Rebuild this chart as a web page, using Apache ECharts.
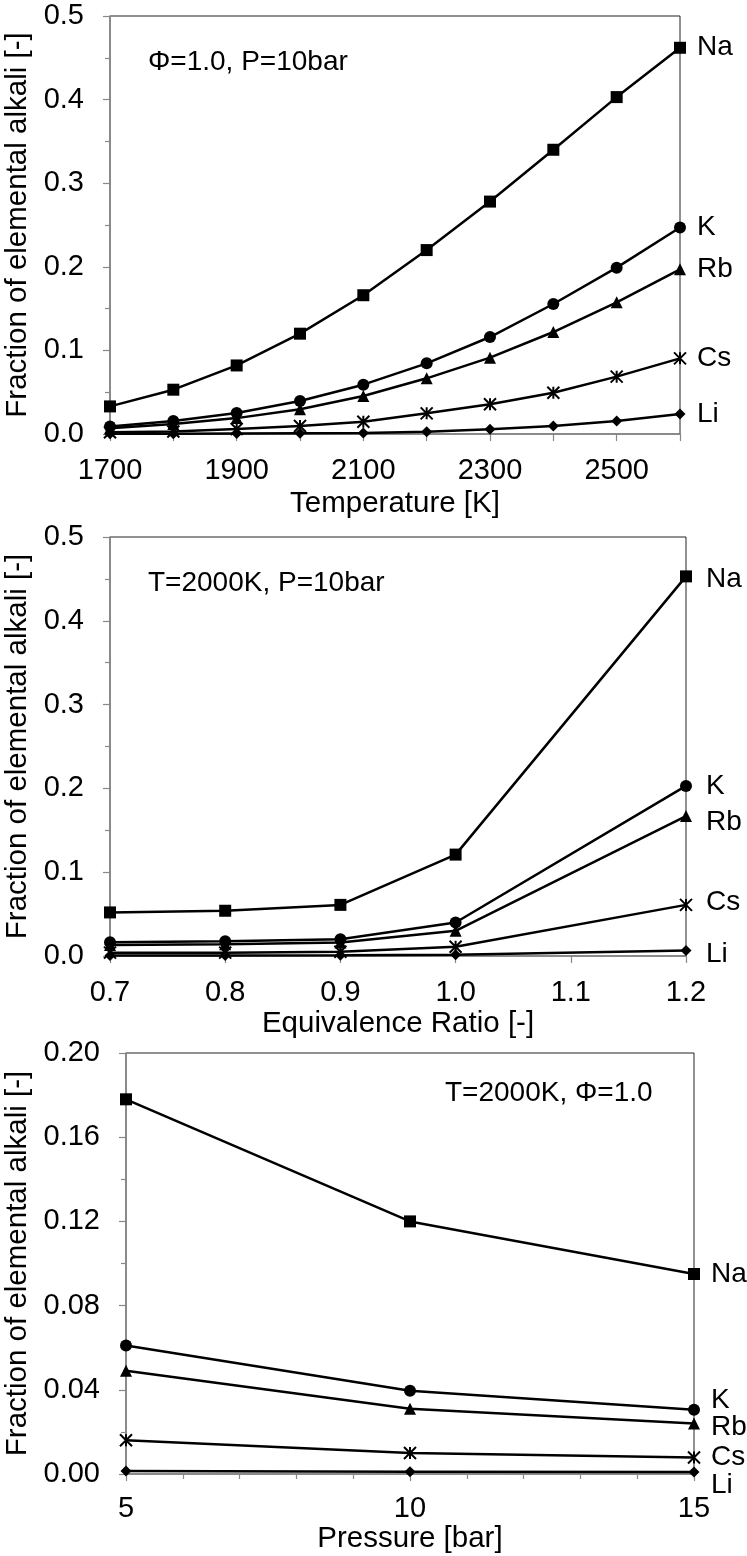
<!DOCTYPE html>
<html>
<head>
<meta charset="utf-8">
<script src="https://cdn.jsdelivr.net/npm/echarts@6/dist/echarts.min.js"></script>
<style>
  html, body { margin: 0; padding: 0; background: #fff; }
  #chart { width: 747px; height: 1556px; }
</style>
</head>
<body>
<div id="chart"></div>
<script>
// Fraction of elemental alkali vs temperature, equivalence ratio and pressure
const species = ['Na', 'K', 'Rb', 'Cs', 'Li'];

// Panel 1: Φ=1.0, P=10bar
const temperatureK = [1700, 1800, 1900, 2000, 2100, 2200, 2300, 2400, 2500, 2600];
const tempNa = [0.033, 0.053, 0.082, 0.120, 0.166, 0.220, 0.278, 0.340, 0.403, 0.462];
const tempK  = [0.009, 0.0155, 0.025, 0.0395, 0.059, 0.0845, 0.116, 0.1555, 0.199, 0.247];
const tempRb = [0.007, 0.012, 0.019, 0.0295, 0.0455, 0.0666, 0.0913, 0.122, 0.1575, 0.197];
const tempCs = [0.002, 0.003, 0.006, 0.0096, 0.0147, 0.0247, 0.0355, 0.0494, 0.0686, 0.0905];
const tempLi = [0.0002, 0.0003, 0.0005, 0.0008, 0.0012, 0.0026, 0.0056, 0.0096, 0.0155, 0.024];

// Panel 2: T=2000K, P=10bar
const equivRatio = [0.7, 0.8, 0.9, 1.0, 1.2];
const phiNa = [0.052, 0.054, 0.061, 0.121, 0.453];
const phiK  = [0.0165, 0.0175, 0.020, 0.040, 0.203];
const phiRb = [0.013, 0.014, 0.016, 0.030, 0.167];
const phiCs = [0.004, 0.004, 0.005, 0.011, 0.061];
const phiLi = [0.0005, 0.0006, 0.0008, 0.0015, 0.0065];

// Panel 3: T=2000K, Φ=1.0
const pressureBar = [5, 10, 15];
const presNa = [0.178, 0.120, 0.095];
const presK  = [0.061, 0.0395, 0.0305];
const presRb = [0.049, 0.031, 0.024];
const presCs = [0.016, 0.010, 0.0078];
const presLi = [0.0014, 0.0011, 0.0009];

const panelTitles = ['Φ=1.0, P=10bar', 'T=2000K, P=10bar', 'T=2000K, Φ=1.0'];
const xAxisNames = ['Temperature [K]', 'Equivalence Ratio [-]', 'Pressure [bar]'];
const yAxisName = 'Fraction of elemental alkali [-]';

const FONT = '"Liberation Sans", Arial, sans-serif';
const FS_TICK = 29;
const FS_NAME = 29.5;
const FS_TEXT = 28;
const AXIS_GRAY = '#888888';

const asterisk = 'path://M0,0L10,10M10,0L0,10M5,0L5,10';
const symbolStyle = {
  Na: { symbol: 'rect', symbolSize: 12 },
  K:  { symbol: 'circle', symbolSize: 12 },
  Rb: { symbol: 'triangle', symbolSize: 12 },
  Cs: { symbol: asterisk, symbolSize: 12 },
  Li: { symbol: 'diamond', symbolSize: 11 }
};

// vertical nudges of the end-of-line species labels, per panel
const labelNudge = [
  { Na: 0, K: 0, Rb: 0, Cs: 0, Li: 0 },
  { Na: 3, K: 0, Rb: 6, Cs: -3, Li: 4 },
  { Na: 0, K: -10, Rb: 4, Cs: 0, Li: 13 }
];
const labelDistance = [17, 20, 17];
const xNameGap = [55, 53, 48];
const yNameGap = [70, 70, 86];

const panels = [
  { x: temperatureK, ys: [tempNa, tempK, tempRb, tempCs, tempLi] },
  { x: equivRatio, ys: [phiNa, phiK, phiRb, phiCs, phiLi] },
  { x: pressureBar, ys: [presNa, presK, presRb, presCs, presLi] }
];

const grids = [
  { left: 110, top: 16, width: 570, height: 418 },
  { left: 110, top: 537, width: 576, height: 419 },
  { left: 126, top: 1053, width: 568, height: 421 }
].map(g => Object.assign({
  show: true, borderColor: '#222', borderWidth: 1, backgroundColor: 'transparent',
  containLabel: false, outerBoundsMode: 'none'
}, g));

const tickCommon = {
  axisLine: { show: true, onZero: false, lineStyle: { color: AXIS_GRAY, width: 1.5 } },
  axisTick: { show: true, inside: false, length: 7, lineStyle: { color: AXIS_GRAY, width: 1.2 } },
  splitLine: { show: false },
  axisLabel: { color: '#000', fontFamily: FONT, fontSize: FS_TICK },
  nameTextStyle: { color: '#000', fontFamily: FONT, fontSize: FS_NAME }
};

function xAxisFor(i) {
  const base = Object.assign({}, tickCommon, {
    type: 'value', gridIndex: i, name: xAxisNames[i], nameLocation: 'middle', nameGap: xNameGap[i]
  });
  if (i === 0) {
    Object.assign(base, { min: 1700, max: 2600, interval: 100 });
    base.axisLabel = Object.assign({}, tickCommon.axisLabel, {
      margin: 22, formatter: v => ((v - 1700) % 200 === 0 ? String(v) : '')
    });
  } else if (i === 1) {
    Object.assign(base, { min: 0.7, max: 1.2, interval: 0.1 });
    base.axisLabel = Object.assign({}, tickCommon.axisLabel, { margin: 22, formatter: v => v.toFixed(1) });
  } else {
    Object.assign(base, { min: 5, max: 15, interval: 5 });
    base.minorTick = { show: true, splitNumber: 5, length: 5, lineStyle: { color: AXIS_GRAY, width: 1.2 } };
    base.axisLabel = Object.assign({}, tickCommon.axisLabel, { margin: 20 });
  }
  return base;
}

function yAxisFor(i) {
  const base = Object.assign({}, tickCommon, {
    type: 'value', gridIndex: i, name: yAxisName, nameLocation: 'middle', nameRotate: 90,
    nameGap: yNameGap[i],
    minorTick: { show: true, splitNumber: 2, length: 5, lineStyle: { color: AXIS_GRAY, width: 1.2 } }
  });
  if (i === 2) {
    Object.assign(base, { min: 0, max: 0.2, interval: 0.04 });
    base.axisLabel = Object.assign({}, tickCommon.axisLabel, { margin: 26, formatter: v => v.toFixed(2) });
  } else {
    Object.assign(base, { min: 0, max: 0.5, interval: 0.1 });
    base.axisLabel = Object.assign({}, tickCommon.axisLabel, { margin: 26, formatter: v => v.toFixed(1) });
  }
  return base;
}

const series = [];
panels.forEach((p, i) => {
  species.forEach((sp, k) => {
    const sym = symbolStyle[sp];
    series.push({
      type: 'line',
      name: sp,
      xAxisIndex: i,
      yAxisIndex: i,
      data: p.x.map((xv, j) => [xv, p.ys[k][j]]),
      symbol: sym.symbol,
      symbolSize: sym.symbolSize,
      showAllSymbol: true,
      clip: false,
      z: 10 - k,
      lineStyle: { color: '#000', width: 2.5 },
      itemStyle: sp === 'Cs'
        ? { color: 'transparent', borderColor: '#000', borderWidth: 2 }
        : { color: '#000', borderWidth: 0 },
      emphasis: { disabled: true },
      animation: false,
      endLabel: {
        show: true,
        formatter: '{a}',
        color: '#000',
        fontFamily: FONT,
        fontSize: FS_TEXT,
        distance: labelDistance[i],
        offset: [0, labelNudge[i][sp]]
      }
    });
  });
});

const graphics = [
  { left: 148, top: 62 },
  { left: 148, top: 583 },
  { left: 445, top: 1093 }
].map((pos, i) => ({
  type: 'text',
  left: pos.left,
  top: pos.top - FS_TEXT / 2,
  style: { text: panelTitles[i], fill: '#000', font: FS_TEXT + 'px ' + FONT }
}));

const chart = echarts.init(document.getElementById('chart'), null, { renderer: 'canvas' });
chart.setOption({
  animation: false,
  backgroundColor: '#fff',
  textStyle: { fontFamily: FONT },
  grid: grids,
  xAxis: [0, 1, 2].map(xAxisFor),
  yAxis: [0, 1, 2].map(yAxisFor),
  series: series,
  graphic: graphics
});
</script>
</body>
</html>
